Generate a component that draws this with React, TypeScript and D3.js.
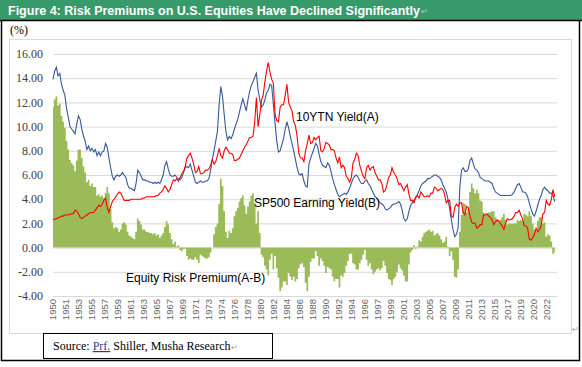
import React from 'react';
import * as d3 from 'd3';

// quarterly readings (Jan/Apr/Jul/Oct), 1950 Q1 .. 2024 Q1
const earningYield = [
  13.9, 14.6, 14.9, 14.2, // 1950
  14.4, 13.5, 13.0, 12.6,
  11.5, 10.8, 10.0, 9.8,
  9.6, 9.4, 10.2, 10.9,
  10.6, 9.8, 9.2, 8.8,
  8.1, 8.4, 8.0, 8.2, // 1955
  7.9, 8.1, 7.6, 7.9,
  7.6, 7.9, 8.0, 8.6,
  8.3, 7.4, 6.6, 5.9,
  5.6, 5.9, 6.0, 5.9,
  6.0, 6.2, 6.0, 5.8, // 1960
  5.2, 4.9, 4.9, 4.8,
  4.7, 5.3, 6.4, 6.2,
  5.9, 5.6, 5.6, 5.5,
  5.5, 5.4, 5.4, 5.3,
  5.4, 5.3, 5.4, 5.3, // 1965
  5.6, 6.0, 6.8, 7.1,
  6.5, 6.0, 5.9, 5.9,
  6.0, 5.8, 5.7, 5.6,
  5.8, 6.2, 6.6, 6.7,
  6.6, 6.9, 6.4, 5.9, // 1970
  5.4, 5.3, 5.4, 5.5,
  5.4, 5.4, 5.5, 5.5,
  5.7, 6.4, 7.3, 8.0,
  8.8, 9.6, 11.8, 13.3,
  12.5, 11.0, 9.6, 8.9, // 1975
  9.2, 9.0, 9.3, 9.8,
  10.2, 10.6, 11.2, 11.8,
  12.3, 11.8, 11.3, 12.2,
  12.9, 13.4, 13.7, 14.1,
  14.4, 13.0, 12.2, 11.6, // 1980
  11.8, 12.2, 12.8, 13.0,
  13.5, 13.4, 11.8, 10.3,
  8.8, 7.9, 8.0, 8.5,
  9.0, 9.8, 10.4, 9.9,
  9.2, 8.6, 8.0, 7.3, // 1985
  6.6, 6.1, 6.0, 6.1,
  5.5, 5.1, 5.0, 6.9,
  7.4, 7.8, 8.2, 8.6,
  8.4, 7.7, 7.1, 6.8,
  6.7, 6.6, 7.0, 6.8, // 1990
  6.3, 5.7, 5.2, 4.8,
  4.4, 4.2, 4.3, 4.4,
  4.5, 4.4, 4.6, 4.9,
  5.3, 5.7, 5.9, 6.0,
  5.8, 5.5, 5.3, 5.3, // 1995
  5.5, 5.6, 5.3, 5.1,
  4.8, 4.5, 4.2, 4.1,
  3.9, 3.7, 3.6, 3.5,
  3.2, 3.1, 3.2, 3.3,
  3.5, 3.6, 3.6, 3.7, // 2000
  3.8, 3.6, 3.1, 2.4,
  2.2, 2.4, 3.0, 3.5,
  3.7, 3.9, 4.1, 4.4,
  4.7, 5.1, 5.3, 5.4,
  5.5, 5.7, 5.7, 5.8, // 2005
  5.9, 6.0, 6.0, 5.9,
  5.8, 5.6, 5.2, 4.9,
  4.6, 4.0, 3.2, 2.3,
  1.5, 0.9, 1.1, 1.6,
  5.0, 6.4, 6.6, 6.3, // 2010
  6.3, 6.5, 7.2, 7.4,
  6.9, 6.5, 6.4, 6.2,
  5.8, 5.7, 5.6, 5.5,
  5.5, 5.5, 5.4, 5.3,
  4.9, 4.6, 4.5, 4.4, // 2015
  4.3, 4.3, 4.3, 4.3,
  4.3, 4.3, 4.3, 4.4,
  4.6, 4.9, 5.2, 5.3,
  5.0, 4.6, 4.6, 4.5,
  4.2, 3.7, 3.2, 2.8, // 2020
  2.6, 3.0, 3.5, 4.0,
  4.3, 4.8, 5.0, 4.8,
  4.7, 4.5, 4.5, 4.3,
  3.8, // 2024
];

const tenYearYield = [
  2.3, 2.35, 2.4, 2.45, // 1950
  2.5, 2.6, 2.6, 2.7,
  2.7, 2.7, 2.75, 2.8,
  2.8, 3.1, 3.0, 2.8,
  2.5, 2.4, 2.5, 2.6,
  2.7, 2.8, 2.9, 2.9, // 1955
  2.9, 3.1, 3.3, 3.5,
  3.4, 3.6, 3.9, 4.1,
  3.3, 2.9, 3.4, 3.8,
  4.0, 4.2, 4.4, 4.6,
  4.5, 4.2, 3.9, 3.9, // 1960
  3.9, 3.9, 4.0, 4.0,
  4.0, 4.0, 4.0, 4.0,
  4.0, 4.1, 4.1, 4.2,
  4.2, 4.2, 4.2, 4.2,
  4.2, 4.3, 4.3, 4.5, // 1965
  4.6, 4.8, 5.1, 4.9,
  4.6, 4.8, 5.2, 5.6,
  5.5, 5.7, 5.5, 5.8,
  6.1, 6.3, 6.7, 7.4,
  7.6, 7.8, 7.4, 6.9, // 1970
  6.2, 6.3, 6.7, 6.1,
  6.1, 6.2, 6.4, 6.4,
  6.5, 6.8, 7.3, 6.9,
  7.1, 7.6, 8.2, 7.6,
  7.4, 8.0, 8.3, 8.1, // 1975
  7.8, 7.8, 7.7, 7.2,
  7.2, 7.3, 7.4, 7.7,
  8.0, 8.3, 8.5, 8.8,
  9.1, 9.1, 9.2, 10.4,
  12.4, 10.0, 11.0, 12.2, // 1980
  12.6, 13.7, 14.6, 15.3,
  14.5, 13.9, 13.6, 11.0,
  10.5, 10.4, 11.6, 11.8,
  11.8, 12.6, 13.5, 12.0,
  11.6, 11.3, 10.4, 10.1, // 1985
  9.2, 7.8, 7.4, 7.4,
  7.1, 8.0, 8.6, 9.3,
  8.6, 8.7, 9.1, 8.9,
  9.1, 9.2, 8.0, 7.9,
  8.2, 8.7, 8.6, 8.5, // 1990
  8.1, 8.1, 8.0, 7.4,
  7.0, 7.5, 6.6, 6.8,
  6.6, 5.9, 5.7, 5.4,
  5.8, 7.0, 7.3, 7.8,
  7.6, 6.8, 6.3, 5.9, // 1995
  5.7, 6.6, 6.8, 6.4,
  6.6, 6.7, 6.2, 5.9,
  5.6, 5.6, 5.3, 4.6,
  4.7, 5.2, 5.8, 6.0,
  6.6, 6.2, 6.0, 5.7, // 2000
  5.2, 5.3, 5.0, 4.7,
  5.0, 5.2, 4.4, 3.9,
  3.9, 3.7, 4.2, 4.3,
  4.1, 4.6, 4.4, 4.2,
  4.2, 4.3, 4.2, 4.5, // 2005
  4.5, 5.0, 4.9, 4.7,
  4.8, 4.9, 4.8, 4.4,
  3.7, 3.9, 3.9, 2.6,
  2.5, 3.3, 3.6, 3.4,
  3.7, 3.7, 2.9, 2.7, // 2010
  3.4, 3.3, 2.6, 2.1,
  2.0, 2.0, 1.6, 1.7,
  1.9, 1.9, 2.7, 2.7,
  2.8, 2.6, 2.5, 2.3,
  1.9, 2.1, 2.3, 2.2, // 2015
  2.0, 1.8, 1.5, 2.0,
  2.4, 2.3, 2.3, 2.4,
  2.6, 2.9, 2.9, 3.1,
  2.7, 2.4, 1.8, 1.8,
  1.6, 0.7, 0.6, 0.8, // 2020
  1.1, 1.6, 1.3, 1.5,
  1.8, 2.8, 2.9, 3.9,
  3.6, 3.5, 4.0, 4.8,
  4.2, // 2024
];

const yTicks = [-4, -2, 0, 2, 4, 6, 8, 10, 12, 14, 16];
const xTickLabels = [
  '1950', '1951', '1953', '1955', '1957', '1959', '1961', '1963', '1965', '1967',
  '1969', '1971', '1973', '1974', '1976', '1978', '1980', '1982', '1984', '1986',
  '1988', '1990', '1992', '1994', '1996', '1997', '1999', '2001', '2003', '2005',
  '2007', '2009', '2011', '2013', '2015', '2017', '2019', '2020', '2022',
];
const tickEveryMonths = 23;
const totalMonths = 892;

const sans = "Arial, 'Liberation Sans', sans-serif";
const serif = "'Times New Roman', 'Liberation Serif', serif";

export default function App() {
  const width = 582;
  const height = 367;
  const plot = { left: 53, right: 557, top: 54, bottom: 296 };

  const x = d3.scaleLinear().domain([0, totalMonths]).range([plot.left, plot.right]);
  const y = d3.scaleLinear().domain([-4, 16]).range([plot.bottom, plot.top]);

  const months = earningYield.map((_, i) => i * 3);
  const premium = earningYield.map((v, i) => v - tenYearYield[i]);

  const lineGen = d3.line<number>()
    .x((_, i) => x(months[i]))
    .y((d) => y(d));
  // premium drawn like Excel's thin columns
  const areaGen = d3.area<number>()
    .x((_, i) => x(months[i]))
    .y0(y(0))
    .y1((d) => y(d))
    .curve(d3.curveStep);

  return (
    <svg width={width} height={height} style={{ position: 'absolute', left: 0, top: 0 }}>
      <rect x={0} y={0} width={width} height={height} fill="#fff" />

      {/* title bar */}
      <rect x={0} y={0} width={width} height={20} fill="#379a6a" />
      <text x={8} y={15} fill="#fff" fontFamily={sans} fontWeight="bold" fontSize={12.5}>
        Figure 4: Risk Premiums on U.S. Equities Have Declined Significantly
      </text>
      <text x={421} y={14} fill="#a8d8bc" fontFamily={sans} fontSize={8}>↵</text>

      {/* outer frame */}
      <path d={`M1.5,20 V360.5 H579.5 V20`} fill="none" stroke="#000" strokeWidth={1.5} />
      <line x1={0} x2={width} y1={20.5} y2={20.5} stroke="#000" strokeWidth={1.5} />

      <text x={10} y={34} fontFamily={serif} fontSize={12} fill="#000">(%)</text>

      {/* chart frame */}
      <rect x={9.5} y={39.5} width={562} height={294} fill="none" stroke="#d9d9d9" />
      <text x={572} y={332} fill="#a0a0a0" fontFamily={sans} fontSize={8}>↵</text>

      {/* grid + y labels */}
      {yTicks.map((t) => (
        <g key={t}>
          <line x1={plot.left} x2={plot.right} y1={y(t) + 0.5} y2={y(t) + 0.5} stroke="#d9d9d9" />
          <text x={43} y={y(t)} dy="0.35em" textAnchor="end" fontFamily={serif} fontSize={12} fill="#404040">
            {t.toFixed(2)}
          </text>
        </g>
      ))}

      {/* x labels */}
      {xTickLabels.map((label, i) => {
        const px = x(i * tickEveryMonths);
        return (
          <text
            key={label + i}
            transform={`translate(${px},${plot.bottom + 3}) rotate(-90)`}
            textAnchor="end"
            dy="0.35em"
            fontFamily={sans}
            fontSize={9.5}
            fill="#666"
          >
            {label}
          </text>
        );
      })}

      {/* series */}
      <path d={areaGen(premium) || ''} fill="#9bbb59" />
      <path d={lineGen(earningYield) || ''} fill="none" stroke="#355a96" strokeWidth={1.1} />
      <path d={lineGen(tenYearYield) || ''} fill="none" stroke="#ff0000" strokeWidth={1.1} />

      {/* annotations */}
      <text x={296} y={121} fontFamily={sans} fontSize={12} fill="#000">10YTN Yield(A)</text>
      <text x={254} y={207} fontFamily={sans} fontSize={12} fill="#000">SP500 Earning Yield(B)</text>
      <text x={126} y={282} fontFamily={sans} fontSize={12} fill="#000">Equity Risk Premium(A-B)</text>

      {/* source box */}
      <rect x={43.5} y={333.5} width={229} height={25} fill="#fff" stroke="#000" />
      <text x={53} y={350} fontFamily={serif} fontSize={12} fill="#000">
        Source:{' '}
        <tspan fill="#1f3f8f" textDecoration="underline">Prf.</tspan>
        {' '}Shiller, Musha Research
        <tspan fill="#a0a0a0" fontSize={8} fontFamily={sans}>↵</tspan>
      </text>
    </svg>
  );
}
